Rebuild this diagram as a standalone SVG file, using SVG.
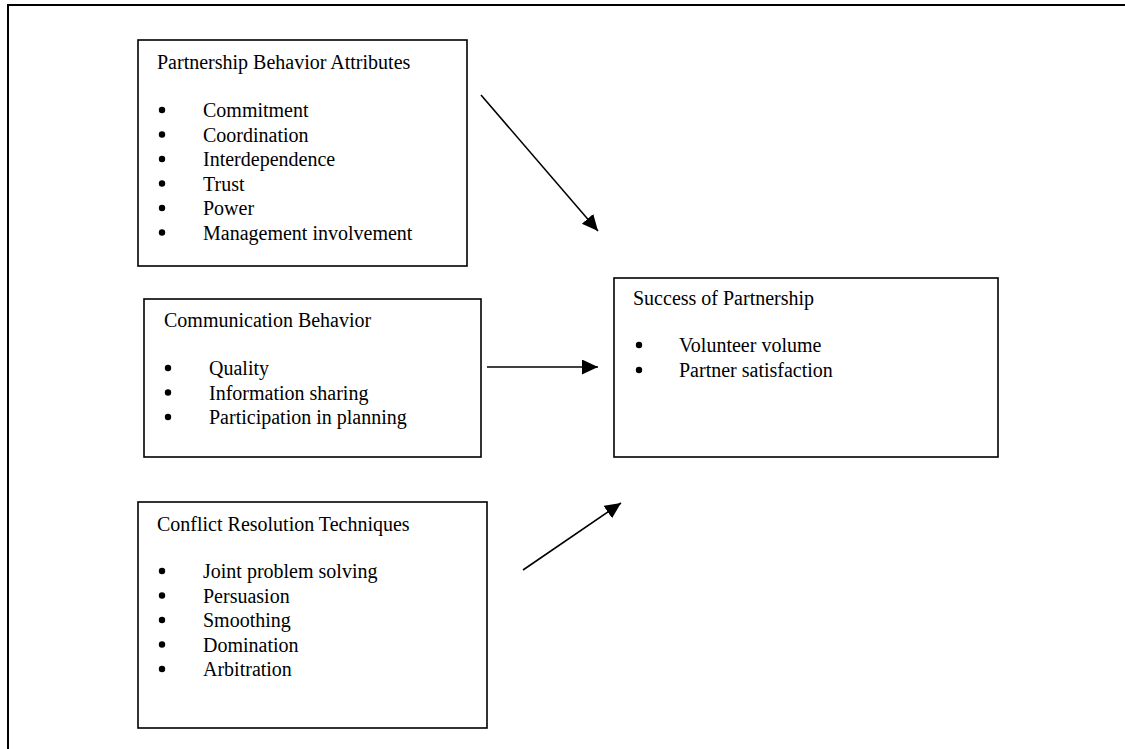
<svg xmlns="http://www.w3.org/2000/svg" width="1125" height="749" viewBox="0 0 1125 749">
<style>
text{font-family:"Liberation Serif","Times New Roman",serif;font-size:20px;fill:#000}
.box{fill:#fff;stroke:#000;stroke-width:1.6}
.frame{fill:none;stroke:#000;stroke-width:2}
.conn{stroke:#000;stroke-width:1.6;fill:none}
</style>
<defs>
<marker id="ah" markerUnits="userSpaceOnUse" markerWidth="18" markerHeight="16" refX="16" refY="7.5" orient="auto">
<path d="M0,0 L16,7.5 L0,15 Z" fill="#000"/>
</marker>
<circle id="b" r="3.2" fill="#000"/>
</defs>
<rect width="1125" height="749" fill="#fff"/>
<rect class="frame" x="8" y="5" width="1130" height="760"/>
<g id="node-partnership">
<rect class="box" x="138" y="40" width="329" height="226"/>
<text x="157" y="69">Partnership Behavior Attributes</text>
<use href="#b" x="162" y="110"/><text x="203" y="117">Commitment</text>
<use href="#b" x="162" y="134.5"/><text x="203" y="141.5">Coordination</text>
<use href="#b" x="162" y="159"/><text x="203" y="166">Interdependence</text>
<use href="#b" x="162" y="183.5"/><text x="203" y="190.5">Trust</text>
<use href="#b" x="162" y="208"/><text x="203" y="215">Power</text>
<use href="#b" x="162" y="232.5"/><text x="203" y="239.5">Management involvement</text>
</g>
<g id="node-communication">
<rect class="box" x="144" y="299" width="337" height="158"/>
<text x="164" y="327">Communication Behavior</text>
<use href="#b" x="168" y="368"/><text x="209" y="375">Quality</text>
<use href="#b" x="168" y="392.5"/><text x="209" y="399.5">Information sharing</text>
<use href="#b" x="168" y="417"/><text x="209" y="424">Participation in planning</text>
</g>
<g id="node-conflict">
<rect class="box" x="138" y="502" width="349" height="226"/>
<text x="157" y="531">Conflict Resolution Techniques</text>
<use href="#b" x="162" y="571"/><text x="203" y="578">Joint problem solving</text>
<use href="#b" x="162" y="595.5"/><text x="203" y="602.5">Persuasion</text>
<use href="#b" x="162" y="620"/><text x="203" y="627">Smoothing</text>
<use href="#b" x="162" y="644.5"/><text x="203" y="651.5">Domination</text>
<use href="#b" x="162" y="669"/><text x="203" y="676">Arbitration</text>
</g>
<g id="node-success">
<rect class="box" x="614" y="278" width="384" height="179"/>
<text x="633" y="305">Success of Partnership</text>
<use href="#b" x="639" y="345"/><text x="679" y="352">Volunteer volume</text>
<use href="#b" x="639" y="370"/><text x="679" y="377">Partner satisfaction</text>
</g>
<g id="connectors">
<line class="conn" x1="481" y1="95" x2="598" y2="231" marker-end="url(#ah)"/>
<line class="conn" x1="487" y1="367" x2="598" y2="367" marker-end="url(#ah)"/>
<line class="conn" x1="523" y1="570" x2="621" y2="503" marker-end="url(#ah)"/>
</g>
</svg>
